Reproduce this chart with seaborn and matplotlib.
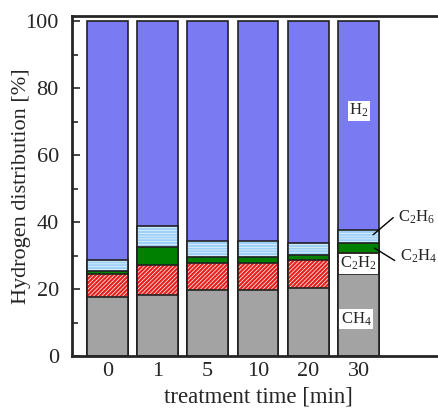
import numpy as np
import matplotlib
matplotlib.use('Agg')
import matplotlib.pyplot as plt
import seaborn as sns

# dados (% de hidrogenio em cada produto)
times = ['0', '1', '5', '10', '20', '30']
ch4 = [17.6, 18.3, 19.8, 19.6, 20.4, 24.6]
c2h2 = [7.0, 9.0, 8.1, 8.3, 8.3, 6.0]
c2h4 = [0.7, 5.1, 1.8, 1.8, 1.4, 3.2]
c2h6 = [3.5, 6.3, 4.6, 4.6, 3.7, 3.8]
h2 = [100 - a - b - c - d for a, b, c, d in zip(ch4, c2h2, c2h4, c2h6)]

sns.set_style('ticks')
plt.rcParams['font.family'] = 'serif'
plt.rcParams['font.serif'] = ['Liberation Serif', 'DejaVu Serif']
plt.rcParams['mathtext.fontset'] = 'custom'
plt.rcParams['mathtext.rm'] = 'Liberation Serif'
plt.rcParams['mathtext.it'] = 'Liberation Serif:italic'
plt.rcParams['hatch.linewidth'] = 1.6

fig = plt.figure(figsize=(4.39, 4.11), dpi=100)
ax = fig.add_axes([72 / 439, 1 - 356 / 411, 372 / 439, 340 / 411])

# alturas acumuladas (desenha do topo para baixo)
top_c2h6 = np.array(ch4) + np.array(c2h2) + np.array(c2h4) + np.array(c2h6)
top_c2h4 = np.array(ch4) + np.array(c2h2) + np.array(c2h4)
top_c2h2 = np.array(ch4) + np.array(c2h2)
top_h2 = top_c2h6 + np.array(h2)

w = 0.81
kw = dict(ax=ax, width=w, saturation=1, errorbar=None)
sns.barplot(x=times, y=top_h2, color='#7a7af2', edgecolor='#222222', linewidth=1.2, **kw)
sns.barplot(x=times, y=top_c2h6, color='white', edgecolor='#9dd0f7', linewidth=0, hatch='------', **kw)
sns.barplot(x=times, y=top_c2h6, fill=False, edgecolor='#222222', linewidth=1.2, **kw)
sns.barplot(x=times, y=top_c2h4, color='#008000', edgecolor='#222222', linewidth=1.2, **kw)
sns.barplot(x=times, y=top_c2h2, color='white', edgecolor='#e8201c', linewidth=0, hatch='////////', **kw)
sns.barplot(x=times, y=top_c2h2, fill=False, edgecolor='#222222', linewidth=1.2, **kw)
sns.barplot(x=times, y=ch4, color='#a3a3a3', edgecolor='#222222', linewidth=1.2, **kw)

ax.set_xlim(-0.7, 6.7)
ax.set_ylim(0, 101.5)
ax.set_yticks([0, 20, 40, 60, 80, 100])
ax.set_yticks([10, 30, 50, 70, 90], minor=True)
ax.tick_params(axis='y', direction='in', length=6, width=1.2, labelsize=16, pad=9.5)
ax.tick_params(axis='y', which='minor', direction='in', length=4, width=1.2)
ax.tick_params(axis='x', length=0, labelsize=16, pad=4)
for s in ['left', 'bottom', 'top']:
    ax.spines[s].set_linewidth(2)
ax.spines['right'].set_visible(False)
ax.set_xlabel('treatment time [min]', fontsize=16.5, labelpad=4)
ax.set_ylabel('Hydrogen distribution [%]', fontsize=16, labelpad=-4)

# rotulos das especies
box = dict(facecolor='white', edgecolor='none', pad=1)
ax.text(5.0, 73.2, 'H$_2$', fontsize=12, ha='center', va='center', bbox=box)
ax.text(5.0, 27.6, 'C$_2$H$_2$', fontsize=12, ha='center', va='center', bbox=box)
ax.text(4.95, 11.1, 'CH$_4$', fontsize=12, ha='center', va='center', bbox=box)
ax.text(5.78, 41.3, 'C$_2$H$_6$', fontsize=12, ha='left', va='center')
ax.text(5.82, 29.8, 'C$_2$H$_4$', fontsize=12, ha='left', va='center')
ax.plot([5.69, 5.29], [41.3, 36.2], color='black', lw=1)
ax.plot([5.72, 5.32], [28.5, 32.2], color='black', lw=1)

fig.savefig('out.png', dpi=100)
